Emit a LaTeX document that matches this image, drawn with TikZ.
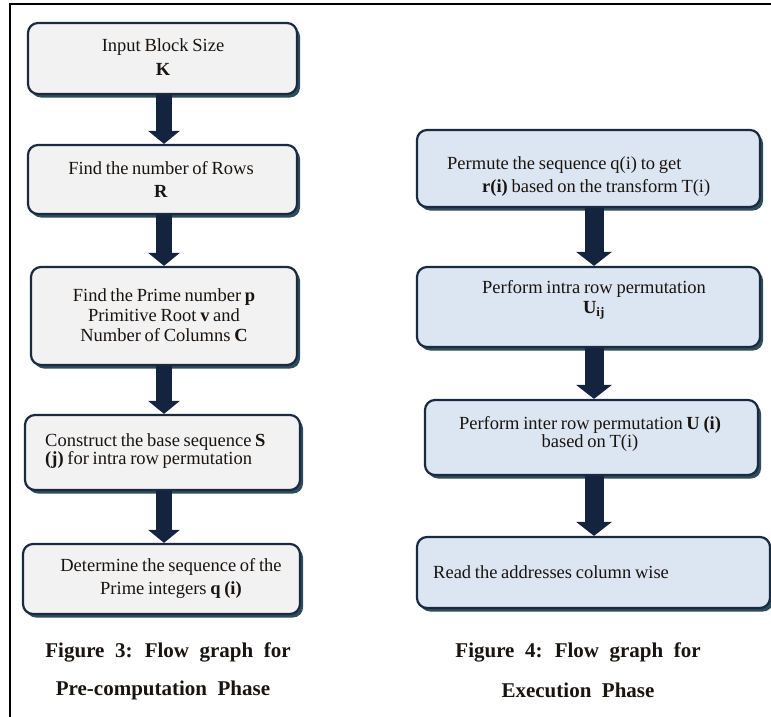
\documentclass[tikz,border=0pt]{standalone}
\usepackage{fontspec}
\setmainfont{Liberation Serif}[WordSpace=0.8]
\newfontfamily\capfont{Liberation Serif}[WordSpace=2.0]
\usetikzlibrary{arrows.meta,shadows}

\definecolor{edgecol}{HTML}{1B2A41}
\definecolor{shadecol}{HTML}{2E4D5C}
\definecolor{arrowcol}{HTML}{14243E}
\definecolor{greyfill}{HTML}{F2F2F2}
\definecolor{bluefill}{HTML}{DCE6F2}
\definecolor{inkcol}{HTML}{1A1410}

\tikzset{
  box/.style={draw=edgecol, line width=2.2pt, rounded corners=10pt,
    inner sep=0pt,
    drop shadow={shadow xshift=3pt, shadow yshift=-3.5pt, fill=shadecol, opacity=1}},
  prebox/.style={box, fill=greyfill},
  exebox/.style={box, fill=bluefill},
  txt/.style={inner sep=0pt, align=center, text=inkcol, font=\fontsize{18.5}{23}\selectfont},
  captxt/.style={inner sep=0pt, text=inkcol, font=\capfont\bfseries\fontsize{21}{25}\selectfont},
  flowarrow/.style={draw=arrowcol, line width=16pt,
    -{Triangle[width=31pt,length=13pt]}},
  wideflowarrow/.style={draw=arrowcol, line width=19pt,
    -{Triangle[width=35pt,length=14pt]}}
}

\begin{document}
\begin{tikzpicture}[x=1pt,y=-1pt]
\useasboundingbox (0,0) rectangle (771,717);

% frame lines along the top and left edges
\draw[line width=1.3pt] (771,4) -- (10,4) -- (10,717);

% column axes for the connectors
\coordinate (lx) at (164,0);
\coordinate (rx) at (594,0);

% ---- pre-computation phase boxes ----
\path (162.5,58.5) node[prebox, minimum width=269pt, minimum height=71pt] (b1) {};
\path (162.5,179.5) node[prebox, minimum width=269pt, minimum height=69pt] (b2) {};
\path (164,316) node[prebox, minimum width=266pt, minimum height=98pt] (b3) {};
\path (162.5,452.5) node[prebox, minimum width=275pt, minimum height=75pt] (b4) {};
\path (161.5,579) node[prebox, minimum width=277pt, minimum height=70pt] (b5) {};

% ---- execution phase boxes ----
\path (588.5,168.5) node[exebox, minimum width=343pt, minimum height=77pt] (e1) {};
\path (588.5,307) node[exebox, minimum width=343pt, minimum height=80pt] (e2) {};
\path (591.5,437.5) node[exebox, minimum width=333pt, minimum height=75pt] (e3) {};
\path (593.5,572.5) node[exebox, minimum width=353pt, minimum height=71pt] (e4) {};

% ---- connectors ----
\draw[flowarrow] (b1.south -| lx) -- (b2.north -| lx);
\draw[flowarrow] (b2.south -| lx) -- (b3.north -| lx);
\draw[flowarrow] (b3.south -| lx) -- (b4.north -| lx);
\draw[flowarrow] (b4.south -| lx) -- (b5.north -| lx);
\draw[wideflowarrow] (e1.south -| rx) -- (e2.north -| rx);
\draw[wideflowarrow] (e2.south -| rx) -- (e3.north -| rx);
\draw[wideflowarrow] (e3.south -| rx) -- (e4.north -| rx);

% ---- box texts, left column ----
\node[txt, font=\fontsize{18.5}{24}\selectfont] (t1) at (163,57) {Input Block Size\\\textbf{K}};
\node[txt] (t2) at (161,179) {Find the number of Rows\\\textbf{R}};
\node[txt, font=\fontsize{18.5}{20}\selectfont] (t3) at (164,315)
  {Find the Prime number \textbf{p}\\Primitive Root \textbf{v} and\\Number of Columns \textbf{C}};
\node[txt, align=left, anchor=west, font=\fontsize{18.5}{18}\selectfont] (t4) at (45,451)
  {Construct the base sequence \textbf{S}\\\textbf{(j)} for intra row permutation};
\node[txt] (t5) at (171,578) {Determine the sequence of the\\Prime integers \textbf{q (i)}};

% ---- box texts, right column ----
\node[txt, align=left, anchor=west] (s1) at (447,176.5)
  {Permute the sequence q(i) to get\\\hspace*{35pt}\textbf{r(i)} based on the transform T(i)};
\node[txt, font=\fontsize{18.5}{20}\selectfont] (s2) at (594,300)
  {Perform intra row permutation\\\textbf{U\textsubscript{ij}}};
\node[txt, font=\fontsize{18.5}{18}\selectfont] (s3) at (590,434)
  {Perform inter row permutation \textbf{U (i)}\\based on T(i)};
\node[txt, anchor=west] (s4) at (433,572) {Read the addresses column wise};

% ---- captions ----
\node[captxt] (c3a) at (168,652) {Figure 3: Flow graph for};
\node[captxt] (c3b) at (163,690) {Pre-computation Phase};
\node[captxt] (c4a) at (578,652) {Figure 4: Flow graph for};
\node[captxt] (c4b) at (578,690) {Execution Phase};
\end{tikzpicture}
\end{document}
